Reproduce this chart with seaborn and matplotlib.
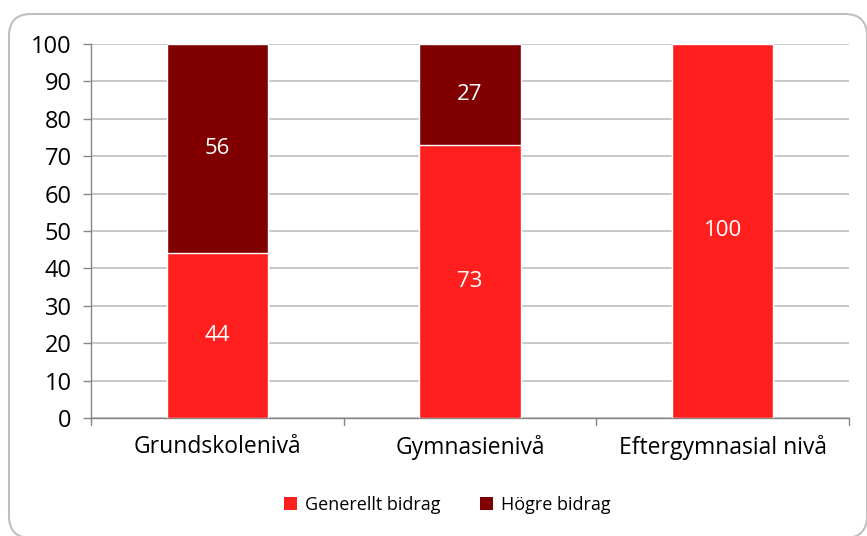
import matplotlib
matplotlib.use("Agg")
import matplotlib.pyplot as plt
import seaborn as sns
import pandas as pd
from matplotlib.patches import FancyBboxPatch, Patch

categories = ["Grundskolenivå", "Gymnasienivå", "Eftergymnasial nivå"]
generellt = [44, 73, 100]
hogre = [56, 27, 0]
series_names = ["Generellt bidrag", "Högre bidrag"]
yticks = list(range(0, 101, 10))

RED = "#FF1F1F"
DARK = "#800000"
GRID = "#BFBFBF"

sns.set_theme(style="white")
plt.rcParams["font.family"] = ["Open Sans", "DejaVu Sans"]
plt.rcParams["text.color"] = "black"
plt.rcParams["xtick.color"] = "black"
plt.rcParams["ytick.color"] = "black"

df = pd.DataFrame({"cat": categories, "gen": generellt, "hog": hogre})
df["total"] = df["gen"] + df["hog"]

fig = plt.figure(figsize=(8.67, 5.36), dpi=100)
ax = fig.add_axes([91/867, 1-418/536, (849-91)/867, (418-44)/536])

sns.barplot(data=df, x="cat", y="total", color=DARK, saturation=1, width=0.4, ax=ax, zorder=2)
sns.barplot(data=df, x="cat", y="gen", color=RED, saturation=1, width=0.4, ax=ax, zorder=3)

for i, (g, h) in enumerate(zip(generellt, hogre)):
    if g > 0:
        ax.text(i, g/2, f"{g}", ha="center", va="center", color="white", fontsize=16, zorder=5)
    if h > 0:
        ax.text(i, g + h/2, f"{h}", ha="center", va="center", color="white", fontsize=16, zorder=5)

ax.set_ylim(0, 100)
ax.set_xlim(-0.5, len(categories) - 0.5)
ax.set_yticks(yticks)
ax.set_yticklabels([str(t) for t in yticks], fontsize=17)
ax.set_xticks([i for i in range(len(categories))])
ax.set_xticklabels(categories, fontsize=16.5)
ax.tick_params(axis="x", length=0, pad=12, labelcolor="black")
ax.tick_params(axis="y", length=6, width=1, color="#868686", direction="out", pad=8,
               left=True, labelcolor="black")
for b in [-0.5, 0.5, 1.5, 2.5]:
    ax.plot([b, b], [0, -0.018], transform=ax.get_xaxis_transform(), color="#868686",
            lw=1, clip_on=False, zorder=4)
ax.set_xlabel("")
ax.set_ylabel("")
ax.yaxis.grid(True, color=GRID, lw=1.2)
ax.set_axisbelow(True)
for s in ["top", "right"]:
    ax.spines[s].set_visible(False)
for s in ["left", "bottom"]:
    ax.spines[s].set_color("#868686")
    ax.spines[s].set_linewidth(1)

handles = [Patch(facecolor=RED, edgecolor="none"), Patch(facecolor=DARK, edgecolor="none")]
fig.legend(handles, series_names, loc="center", bbox_to_anchor=(447/867, 1-505/536),
           ncol=2, frameon=False, fontsize=13, handlelength=0.75, handleheight=0.75,
           handletextpad=0.4, columnspacing=2.2, labelcolor="black")

border = FancyBboxPatch((9, -2), 858, 524, boxstyle="round,pad=0,rounding_size=22",
                        transform=None, facecolor="none", edgecolor="#BFBFBF", lw=1.5,
                        zorder=0)
fig.patches.append(border)

fig.savefig("out.png", dpi=100)
